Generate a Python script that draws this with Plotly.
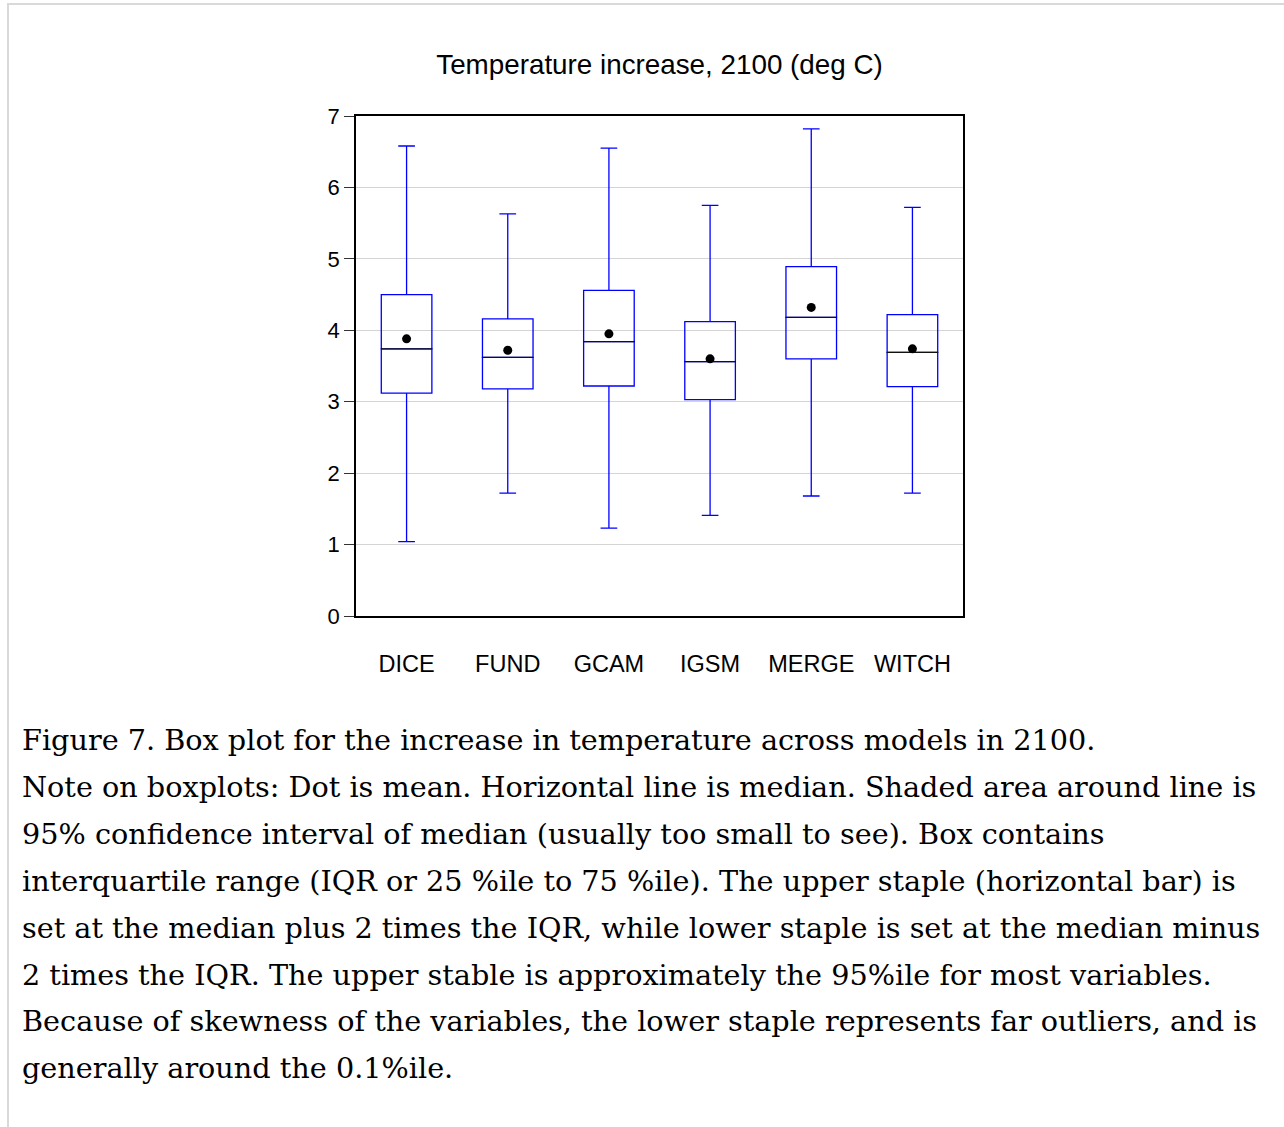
import plotly.graph_objects as go

# box plot stats (deg C)
models = ["DICE", "FUND", "GCAM", "IGSM", "MERGE", "WITCH"]
lower_staple = [1.04, 1.72, 1.23, 1.41, 1.68, 1.72]
q1 = [3.12, 3.18, 3.22, 3.03, 3.60, 3.21]
median = [3.74, 3.62, 3.84, 3.56, 4.18, 3.69]
q3 = [4.50, 4.16, 4.56, 4.12, 4.89, 4.22]
upper_staple = [6.58, 5.63, 6.55, 5.75, 6.82, 5.72]
mean = [3.88, 3.72, 3.95, 3.60, 4.32, 3.74]

title = "Temperature increase, 2100 (deg C)"
caption = [
    "Figure 7. Box plot for the increase in temperature across models in 2100.",
    "Note on boxplots: Dot is mean. Horizontal line is median. Shaded area around line is",
    "95% confidence interval of median (usually too small to see). Box contains",
    "interquartile range (IQR or 25 %ile to 75 %ile). The upper staple (horizontal bar) is",
    "set at the median plus 2 times the IQR, while lower staple is set at the median minus",
    "2 times the IQR. The upper stable is approximately the 95%ile for most variables.",
    "Because of skewness of the variables, the lower staple represents far outliers, and is",
    "generally around the 0.1%ile.",
]

W, H = 1284, 1127
L, R, T, B = 356, 963, 116, 616

fig = go.Figure()
fig.add_trace(go.Box(
    x=models, q1=q1, median=median, q3=q3,
    lowerfence=lower_staple, upperfence=upper_staple,
    fillcolor="rgba(0,0,0,0)", line=dict(color="#0000ff", width=1.3),
    width=0.5, whiskerwidth=0.33, boxpoints=False, hoverinfo="skip", showlegend=False,
))
# black median line over the blue box (line-ew draws 1.4*size wide)
fig.add_trace(go.Scatter(
    x=models, y=median, mode="markers", showlegend=False,
    marker=dict(symbol="line-ew", size=37, line=dict(color="#111111", width=1.3)),
))
# mean dots
fig.add_trace(go.Scatter(
    x=models, y=mean, mode="markers", showlegend=False,
    marker=dict(color="black", size=9),
))

def px_x(x):
    return (x - L) / (R - L)

def px_y(y):
    return (B - y) / (B - T)

for i, line in enumerate(caption):
    fig.add_annotation(
        text=line, xref="paper", yref="paper", x=px_x(20), y=px_y(740 + i * 46.9),
        xanchor="left", yanchor="middle", showarrow=False,
        font=dict(family="DejaVu Serif", size=28.7, color="black"),
    )

fig.add_shape(type="rect", xref="paper", yref="paper",
              x0=px_x(8), x1=px_x(1300), y0=px_y(1140), y1=px_y(4),
              line=dict(color="#d9d9d9", width=2), layer="below")

fig.update_layout(
    width=W, height=H,
    margin=dict(l=L, r=W - R, t=T, b=H - B),
    paper_bgcolor="white", plot_bgcolor="white",
    title=dict(text=title, x=659.5 / W, xanchor="center",
               y=1 - 64 / H, yanchor="middle", yref="container",
               font=dict(family="Liberation Sans", size=27.8, color="black")),
    font=dict(family="Liberation Sans", color="black"),
)
fig.update_xaxes(
    type="category", range=[-0.5, 5.5], showgrid=False,
    showline=True, linecolor="black", linewidth=1.5, mirror=True,
    ticks="", ticklabelstandoff=26, tickfont=dict(size=23.5),
)
fig.update_yaxes(
    range=[0, 7], dtick=1, showgrid=True, gridcolor="#d4d4d4", gridwidth=1,
    showline=True, linecolor="black", linewidth=1.5, mirror=True,
    ticks="outside", ticklen=10, tickcolor="#333333", tickfont=dict(size=22),
    zeroline=False,
)

fig.write_html("out.html", config={"displayModeBar": False},
               post_script="document.body.style.margin='0';")
